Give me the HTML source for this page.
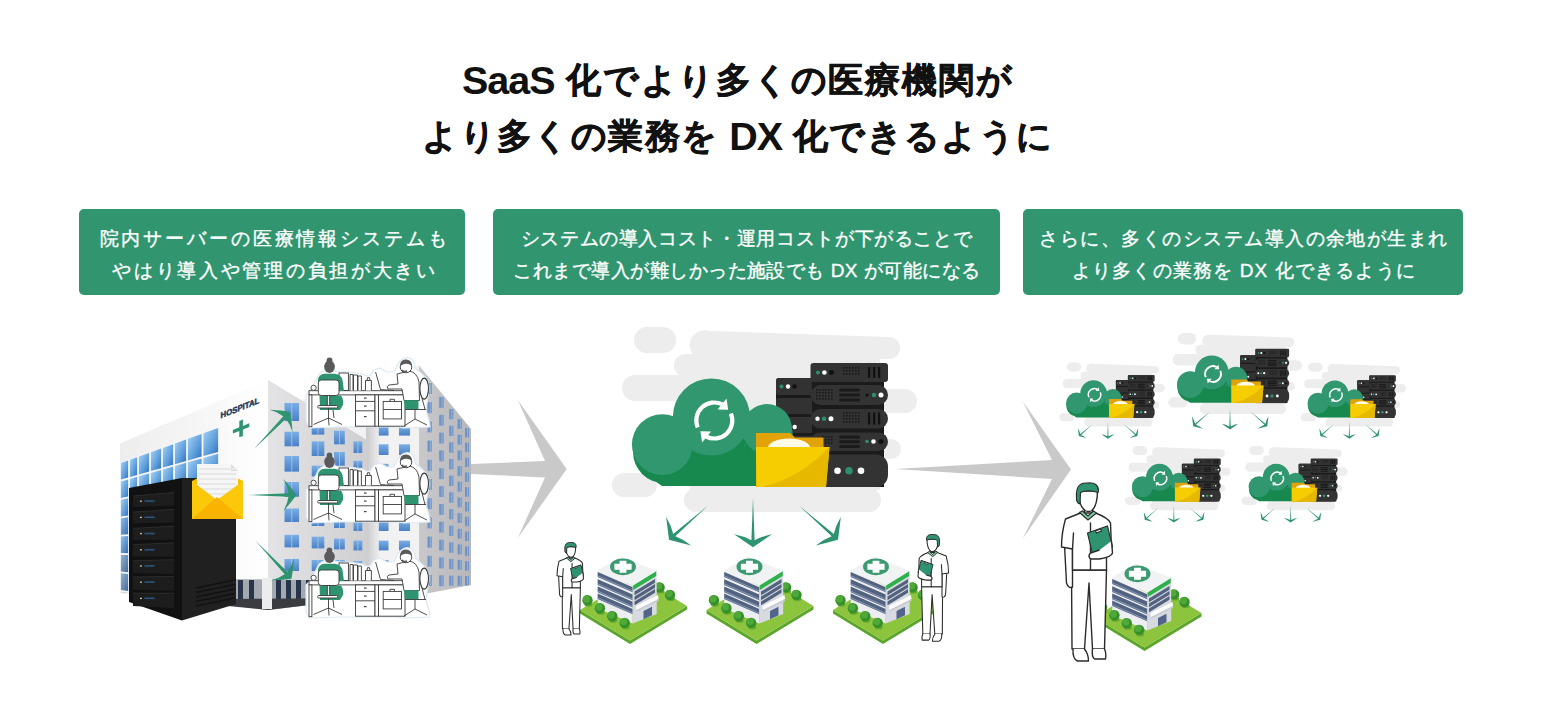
<!DOCTYPE html>
<html><head><meta charset="utf-8">
<style>
html,body{margin:0;padding:0;background:#fff;}
body{width:1542px;height:720px;position:relative;overflow:hidden;font-family:"Liberation Sans",sans-serif;}
.t{position:absolute;font-weight:bold;color:#111;-webkit-text-stroke:0.6px #111;font-size:34.5px;letter-spacing:2.9px;white-space:nowrap;line-height:1;}
.t .l{font-size:39.5px;letter-spacing:-1px;vertical-align:-2px;-webkit-text-stroke:0px #111;}
.box{position:absolute;top:209px;height:86px;background:#31966f;border-radius:5px;}
.bt{position:absolute;color:#fff;font-size:19px;-webkit-text-stroke:0.35px #fff;line-height:1;white-space:nowrap;}
svg.ill{position:absolute;left:0;top:0;}
</style></head><body>
<svg class="ill" width="1542" height="720" viewBox="0 0 1542 720">
<defs>
<linearGradient id="gwin" x1="0" y1="0" x2="1" y2="1">
<stop offset="0" stop-color="#a9d0f2"/><stop offset="0.45" stop-color="#5b9ad8"/><stop offset="1" stop-color="#4b6f98"/></linearGradient>
<linearGradient id="gpane" x1="0" y1="0" x2="1" y2="1">
<stop offset="0" stop-color="#a8d2f4"/><stop offset="0.6" stop-color="#5c9ddc"/><stop offset="1" stop-color="#2f6fb8"/></linearGradient>
<linearGradient id="gpane2" x1="0" y1="0" x2="1" y2="1">
<stop offset="0" stop-color="#8fbfe8"/><stop offset="0.6" stop-color="#5890cc"/><stop offset="1" stop-color="#3a6aa6"/></linearGradient>
<linearGradient id="gpane3" x1="0" y1="0" x2="1" y2="1">
<stop offset="0" stop-color="#8eb2d4"/><stop offset="0.6" stop-color="#6688b0"/><stop offset="1" stop-color="#4a6890"/></linearGradient>
<linearGradient id="gwin2" x1="0" y1="0" x2="0" y2="1">
<stop offset="0" stop-color="#7aaee6"/><stop offset="1" stop-color="#4a80c6"/></linearGradient>
<linearGradient id="grface" x1="0" y1="0" x2="1" y2="0">
<stop offset="0" stop-color="#e3e3e5"/><stop offset="1" stop-color="#cfcfd2"/></linearGradient>
<linearGradient id="gtall" x1="0" y1="0" x2="1" y2="0">
<stop offset="0" stop-color="#c9c9cc"/><stop offset="1" stop-color="#b7b7bb"/></linearGradient>
<linearGradient id="gleft" x1="0" y1="0" x2="1" y2="0">
<stop offset="0" stop-color="#ededed"/><stop offset="0.6" stop-color="#f7f7f7"/><stop offset="1" stop-color="#ffffff"/></linearGradient>
<linearGradient id="gshadow" x1="0" y1="0" x2="1" y2="0">
<stop offset="0" stop-color="#b8b8bc"/><stop offset="1" stop-color="#eeeeef"/></linearGradient>

<g id="unit">
<g fill="#ededed">
<rect x="634" y="327" width="42" height="26" rx="13"/>
<path d="M709 331 L889 337 A11 11 0 0 1 889 359 L700 359 A14 14 0 0 1 709 331 Z"/>
<rect x="674" y="354" width="200" height="23" rx="11.5"/>
<rect x="622" y="375" width="180" height="26" rx="13"/>
<rect x="690" y="356" width="190" height="134"/>
<rect x="870" y="389" width="47" height="24" rx="12"/>
<rect x="860" y="439" width="41" height="20" rx="10"/>
<rect x="612" y="473" width="45" height="24" rx="12"/>
<rect x="684" y="488" width="197" height="24" rx="12"/>
</g>
<rect x="776" y="378" width="40" height="108" rx="3" fill="#1b1b1b"/>
<rect x="776" y="378" width="40" height="17" rx="3" fill="#323232"/>
<rect x="776" y="398" width="40" height="16" rx="3" fill="#323232"/>
<rect x="776" y="417" width="40" height="16" rx="3" fill="#323232"/>
<rect x="776" y="436" width="40" height="16" rx="3" fill="#323232"/>
<circle cx="781.5" cy="386.5" r="2" fill="#2f8f6a"/><circle cx="788" cy="386.5" r="2.2" fill="#fff"/><circle cx="794.5" cy="386.5" r="2.2" fill="#111"/>
<circle cx="794.7" cy="427" r="2.2" fill="#fff"/>
<rect x="812" y="365" width="72" height="122" fill="#1b1b1b"/>
<rect x="810.5" y="363" width="77.5" height="19" rx="3" fill="#333333"/>
<rect x="810.5" y="385" width="77.5" height="20" rx="10" fill="#333333"/>
<rect x="810.5" y="409" width="77.5" height="19.5" rx="9.75" fill="#333333"/>
<rect x="810.5" y="432.5" width="77.5" height="18.5" rx="9.25" fill="#333333"/>
<rect x="810.5" y="454.5" width="77.5" height="32.5" rx="12" fill="#333333"/>
<circle cx="818" cy="372.5" r="2" fill="#2f8f6a"/><circle cx="824.4" cy="372.5" r="2.3" fill="#fff"/><circle cx="831.5" cy="372.5" r="2.5" fill="#111"/>
<rect x="843.0" y="367.0" width="1.6" height="1.6" fill="#1a1a1a"/><rect x="843.0" y="370.0" width="1.6" height="1.6" fill="#1a1a1a"/><rect x="843.0" y="373.0" width="1.6" height="1.6" fill="#1a1a1a"/><rect x="846.0" y="367.0" width="1.6" height="1.6" fill="#1a1a1a"/><rect x="846.0" y="370.0" width="1.6" height="1.6" fill="#1a1a1a"/><rect x="846.0" y="373.0" width="1.6" height="1.6" fill="#1a1a1a"/><rect x="849.0" y="367.0" width="1.6" height="1.6" fill="#1a1a1a"/><rect x="849.0" y="370.0" width="1.6" height="1.6" fill="#1a1a1a"/><rect x="849.0" y="373.0" width="1.6" height="1.6" fill="#1a1a1a"/><rect x="852.0" y="367.0" width="1.6" height="1.6" fill="#1a1a1a"/><rect x="852.0" y="370.0" width="1.6" height="1.6" fill="#1a1a1a"/><rect x="852.0" y="373.0" width="1.6" height="1.6" fill="#1a1a1a"/><rect x="855.0" y="367.0" width="1.6" height="1.6" fill="#1a1a1a"/><rect x="855.0" y="370.0" width="1.6" height="1.6" fill="#1a1a1a"/><rect x="855.0" y="373.0" width="1.6" height="1.6" fill="#1a1a1a"/><rect x="858.0" y="367.0" width="1.6" height="1.6" fill="#1a1a1a"/><rect x="858.0" y="370.0" width="1.6" height="1.6" fill="#1a1a1a"/><rect x="858.0" y="373.0" width="1.6" height="1.6" fill="#1a1a1a"/>
<rect x="868" y="367" width="2.2" height="11" fill="#111"/><rect x="873" y="367" width="2.2" height="11" fill="#111"/><rect x="878" y="367" width="2.2" height="11" fill="#111"/>
<rect x="816.0" y="389.0" width="1.6" height="1.6" fill="#1a1a1a"/><rect x="816.0" y="392.0" width="1.6" height="1.6" fill="#1a1a1a"/><rect x="816.0" y="395.0" width="1.6" height="1.6" fill="#1a1a1a"/><rect x="816.0" y="398.0" width="1.6" height="1.6" fill="#1a1a1a"/><rect x="819.0" y="389.0" width="1.6" height="1.6" fill="#1a1a1a"/><rect x="819.0" y="392.0" width="1.6" height="1.6" fill="#1a1a1a"/><rect x="819.0" y="395.0" width="1.6" height="1.6" fill="#1a1a1a"/><rect x="819.0" y="398.0" width="1.6" height="1.6" fill="#1a1a1a"/><rect x="822.0" y="389.0" width="1.6" height="1.6" fill="#1a1a1a"/><rect x="822.0" y="392.0" width="1.6" height="1.6" fill="#1a1a1a"/><rect x="822.0" y="395.0" width="1.6" height="1.6" fill="#1a1a1a"/><rect x="822.0" y="398.0" width="1.6" height="1.6" fill="#1a1a1a"/><rect x="825.0" y="389.0" width="1.6" height="1.6" fill="#1a1a1a"/><rect x="825.0" y="392.0" width="1.6" height="1.6" fill="#1a1a1a"/><rect x="825.0" y="395.0" width="1.6" height="1.6" fill="#1a1a1a"/><rect x="825.0" y="398.0" width="1.6" height="1.6" fill="#1a1a1a"/><rect x="828.0" y="389.0" width="1.6" height="1.6" fill="#1a1a1a"/><rect x="828.0" y="392.0" width="1.6" height="1.6" fill="#1a1a1a"/><rect x="828.0" y="395.0" width="1.6" height="1.6" fill="#1a1a1a"/><rect x="828.0" y="398.0" width="1.6" height="1.6" fill="#1a1a1a"/><rect x="831.0" y="389.0" width="1.6" height="1.6" fill="#1a1a1a"/><rect x="831.0" y="392.0" width="1.6" height="1.6" fill="#1a1a1a"/><rect x="831.0" y="395.0" width="1.6" height="1.6" fill="#1a1a1a"/><rect x="831.0" y="398.0" width="1.6" height="1.6" fill="#1a1a1a"/>
<rect x="839" y="388.5" width="21" height="3" rx="1.5" fill="#1a1a1a"/><rect x="839" y="393.5" width="21" height="3" rx="1.5" fill="#1a1a1a"/><rect x="839" y="398.5" width="21" height="3" rx="1.5" fill="#1a1a1a"/>
<circle cx="867" cy="395" r="1.6" fill="#111"/><circle cx="874" cy="395" r="2.2" fill="#2f8f6a"/><circle cx="881" cy="395" r="2.5" fill="#fff"/>
<circle cx="817.5" cy="418.7" r="2.2" fill="#fff"/><circle cx="824" cy="418.7" r="2.2" fill="#2f8f6a"/><circle cx="831" cy="418.7" r="2.5" fill="#fff"/>
<rect x="843.0" y="412.0" width="1.6" height="1.6" fill="#1a1a1a"/><rect x="843.0" y="415.0" width="1.6" height="1.6" fill="#1a1a1a"/><rect x="843.0" y="418.0" width="1.6" height="1.6" fill="#1a1a1a"/><rect x="843.0" y="421.0" width="1.6" height="1.6" fill="#1a1a1a"/><rect x="846.0" y="412.0" width="1.6" height="1.6" fill="#1a1a1a"/><rect x="846.0" y="415.0" width="1.6" height="1.6" fill="#1a1a1a"/><rect x="846.0" y="418.0" width="1.6" height="1.6" fill="#1a1a1a"/><rect x="846.0" y="421.0" width="1.6" height="1.6" fill="#1a1a1a"/><rect x="849.0" y="412.0" width="1.6" height="1.6" fill="#1a1a1a"/><rect x="849.0" y="415.0" width="1.6" height="1.6" fill="#1a1a1a"/><rect x="849.0" y="418.0" width="1.6" height="1.6" fill="#1a1a1a"/><rect x="849.0" y="421.0" width="1.6" height="1.6" fill="#1a1a1a"/><rect x="852.0" y="412.0" width="1.6" height="1.6" fill="#1a1a1a"/><rect x="852.0" y="415.0" width="1.6" height="1.6" fill="#1a1a1a"/><rect x="852.0" y="418.0" width="1.6" height="1.6" fill="#1a1a1a"/><rect x="852.0" y="421.0" width="1.6" height="1.6" fill="#1a1a1a"/><rect x="855.0" y="412.0" width="1.6" height="1.6" fill="#1a1a1a"/><rect x="855.0" y="415.0" width="1.6" height="1.6" fill="#1a1a1a"/><rect x="855.0" y="418.0" width="1.6" height="1.6" fill="#1a1a1a"/><rect x="855.0" y="421.0" width="1.6" height="1.6" fill="#1a1a1a"/><rect x="858.0" y="412.0" width="1.6" height="1.6" fill="#1a1a1a"/><rect x="858.0" y="415.0" width="1.6" height="1.6" fill="#1a1a1a"/><rect x="858.0" y="418.0" width="1.6" height="1.6" fill="#1a1a1a"/><rect x="858.0" y="421.0" width="1.6" height="1.6" fill="#1a1a1a"/>
<rect x="868" y="412.5" width="2.2" height="12" fill="#111"/><rect x="873" y="412.5" width="2.2" height="12" fill="#111"/><rect x="878" y="412.5" width="2.2" height="12" fill="#111"/>
<rect x="822.0" y="436.0" width="1.6" height="1.6" fill="#1a1a1a"/><rect x="822.0" y="439.0" width="1.6" height="1.6" fill="#1a1a1a"/><rect x="822.0" y="442.0" width="1.6" height="1.6" fill="#1a1a1a"/><rect x="825.0" y="436.0" width="1.6" height="1.6" fill="#1a1a1a"/><rect x="825.0" y="439.0" width="1.6" height="1.6" fill="#1a1a1a"/><rect x="825.0" y="442.0" width="1.6" height="1.6" fill="#1a1a1a"/><rect x="828.0" y="436.0" width="1.6" height="1.6" fill="#1a1a1a"/><rect x="828.0" y="439.0" width="1.6" height="1.6" fill="#1a1a1a"/><rect x="828.0" y="442.0" width="1.6" height="1.6" fill="#1a1a1a"/><rect x="831.0" y="436.0" width="1.6" height="1.6" fill="#1a1a1a"/><rect x="831.0" y="439.0" width="1.6" height="1.6" fill="#1a1a1a"/><rect x="831.0" y="442.0" width="1.6" height="1.6" fill="#1a1a1a"/>
<rect x="839" y="435.5" width="21" height="3" rx="1.5" fill="#1a1a1a"/><rect x="839" y="440.2" width="21" height="3" rx="1.5" fill="#1a1a1a"/><rect x="839" y="445" width="21" height="3" rx="1.5" fill="#1a1a1a"/>
<circle cx="867" cy="441.5" r="1.8" fill="#2f8f6a"/><circle cx="873.5" cy="441.5" r="2.3" fill="#fff"/><circle cx="881" cy="441.5" r="2.5" fill="#111"/>
<circle cx="837.5" cy="470.7" r="3.3" fill="#fff"/><circle cx="849" cy="470.7" r="3.8" fill="#2f8f6a"/><circle cx="861" cy="470.7" r="3.3" fill="#fff"/>
<g fill="#17894f">
<circle cx="664" cy="452" r="31"/><circle cx="713" cy="424" r="38.5"/><circle cx="768" cy="436" r="25"/>
<path d="M650 446 L790 446 L790 486 L662 486 A30 30 0 0 1 650 446 Z"/>
</g>
<g fill="#30976f">
<circle cx="662.3" cy="444.6" r="30.4"/><circle cx="767" cy="429" r="25"/>
</g>
<circle cx="711.4" cy="417" r="38.6" fill="#30976f"/>
<g fill="none" stroke="#fff" stroke-width="4.2">
<path d="M697.73 427.53 A18 18 0 0 1 722.47 404.46"/>
<path d="M730.87 413.47 A18 18 0 0 1 706.13 436.54"/>
</g>
<path d="M726.5 398.6 L728.2 409.8 L717.6 409.6 Z" fill="#fff"/>
<path d="M702.1 442.4 L700.4 431.2 L711.0 431.4 Z" fill="#fff"/>
<path d="M756 433 L790 433 L795 437.5 L823.5 437.5 L824 487 L756 487 Z" fill="#e2a309"/>
<ellipse cx="789" cy="448" rx="21" ry="9.5" fill="#fffbe6"/>
<path d="M756 447 L829.5 447 L826 487 L756.5 487 Z" fill="#f6cd00"/>
<path d="M829.5 447 L826 487 L762 487 Q800 478 829.5 447 Z" fill="#e6b800"/>
<path transform="translate(753 498) rotate(0)" d="M0 0 L1.6 42.2 Q9 38.2 19 36.300000000000004 Q9 43.2 0 49.2 Q-9 43.2 -19 36.300000000000004 Q-9 38.2 -1.6 42.2 Z" fill="#2e9470"/>
<path transform="translate(707.9 505.7) rotate(48.8)" d="M0 0 L1.6 44.7 Q9 40.7 19 38.800000000000004 Q9 45.7 0 51.7 Q-9 45.7 -19 38.800000000000004 Q-9 40.7 -1.6 44.7 Z" fill="#2e9470"/>
<path transform="translate(799.1 505.7) rotate(-48.8)" d="M0 0 L1.6 44.7 Q9 40.7 19 38.800000000000004 Q9 45.7 0 51.7 Q-9 45.7 -19 38.800000000000004 Q-9 40.7 -1.6 44.7 Z" fill="#2e9470"/>
</g>
<g id="hosp">
<path d="M580 610 L630 640.5 L687 606 L687 609.5 L630 644 L580 613.5 Z" fill="#5aa62a"/>
<path d="M580 610 L637 575.5 L687 606 L630 640.5 Z" fill="#8cc43e"/>
<ellipse cx="660.6" cy="591.4" rx="4" ry="2" fill="#6aa830"/><circle cx="659.6" cy="587.4" r="5.2" fill="#35902a"/><circle cx="658.6" cy="586.0" r="3.6" fill="#4fa83a"/>
<ellipse cx="671" cy="599" rx="4" ry="2" fill="#6aa830"/><circle cx="670" cy="595" r="5.2" fill="#35902a"/><circle cx="669" cy="593.6" r="3.6" fill="#4fa83a"/>
<path d="M597.7 570.4 L632.7 585.7 L632.7 623.6 L597.7 608.3 Z" fill="#eceef2"/>
<path d="M597.7 571.9 L632.7 587.2 L632.7 592.3 L597.7 577 Z" fill="#52627f"/>
<path d="M597.7 575.8 L632.7 591.1" stroke="#8fa6c6" stroke-width="0.8"/>
<path d="M597.7 579.2 L632.7 594.5 L632.7 600.3 L597.7 585 Z" fill="#52627f"/>
<path d="M597.7 583.8 L632.7 599.1" stroke="#8fa6c6" stroke-width="0.8"/>
<path d="M597.7 586.4 L632.7 601.7 L632.7 607.6 L597.7 592.3 Z" fill="#52627f"/>
<path d="M597.7 591.1 L632.7 606.4" stroke="#8fa6c6" stroke-width="0.8"/>
<path d="M597.7 593.6 L632.7 608.9 L632.7 614.3 L597.7 599 Z" fill="#52627f"/>
<path d="M597.7 597.8 L632.7 613.1" stroke="#8fa6c6" stroke-width="0.8"/>
<path d="M632.7 585.7 L656.7 571.1 L656.7 614.1 L632.7 623.6 Z" fill="#d7dae0"/>
<path d="M633.2 584.6 L656.2 570.6 L656.2 576 L633.2 590 Z" fill="#2eb04a"/>
<path d="M634.5 591.5 L655 579.0 L655 582.8 L634.5 595.3 Z" fill="#52627f"/>
<path d="M634.5 596.5 L655 584.0 L655 587.8 L634.5 600.3 Z" fill="#52627f"/>
<path d="M634.5 601.5 L655 589.0 L655 592.8 L634.5 605.3 Z" fill="#52627f"/>
<path d="M636 606 L658 595 L658.5 599 L636.5 610 Z" fill="#ffffff"/>
<path d="M636.5 610 L658.5 599 L658.5 601 L636.5 612 Z" fill="#c9ccd3"/>
<path d="M643.5 611 L652 606.8 L652 615.2 L643.5 619.3 Z" fill="#52648a"/>
<path d="M597.7 570.4 L621 556.6 L656.7 571.1 L632.7 585.7 Z" fill="#f1f2f4"/>
<ellipse cx="623" cy="566.8" rx="13" ry="8.4" fill="#3d9a70"/>
<path d="M619.6 560.8 h6.8 v3 h5.2 v6 h-5.2 v3 h-6.8 v-3 h-5.2 v-6 h5.2 Z" fill="#fff"/>
<ellipse cx="588.5" cy="604.8" rx="4" ry="2" fill="#6aa830"/><circle cx="587.5" cy="600.3" r="5.2" fill="#35902a"/><circle cx="586.5" cy="598.9" r="3.6" fill="#4fa83a"/>
<ellipse cx="600.9" cy="612.8" rx="4" ry="2" fill="#6aa830"/><circle cx="599.9" cy="608.3" r="5.2" fill="#35902a"/><circle cx="598.9" cy="606.9" r="3.6" fill="#4fa83a"/>
<ellipse cx="613.3" cy="620.8" rx="4" ry="2" fill="#6aa830"/><circle cx="612.3" cy="616.3" r="5.2" fill="#35902a"/><circle cx="611.3" cy="614.9" r="3.6" fill="#4fa83a"/>
<ellipse cx="625.7" cy="627.4" rx="4" ry="2" fill="#6aa830"/><circle cx="624.7" cy="622.9" r="5.2" fill="#35902a"/><circle cx="623.7" cy="621.5" r="3.6" fill="#4fa83a"/>
</g>
<g id="doc">
<g fill="#fff" stroke="#2b2b2b" style="stroke-width:var(--sw,1.5px)" stroke-linejoin="round" stroke-linecap="round" vector-effect="non-scaling-stroke">
<path vector-effect="non-scaling-stroke" d="M-16 87 L-15.5 166 L-3 166 L1.5 100 L5 166 L17 166 L19 87 Z"/>
<path vector-effect="non-scaling-stroke" d="M-14.5 166 Q-15 176 -10 178 L1 178 Q1 171 -3 166 M5 166 Q4 174 7 176 L18 176 Q19 170 17 166"/>
<path vector-effect="non-scaling-stroke" d="M-23 62 L-21 100 Q-19 106 -15 104 L-15 99 L-15 66"/>
<path vector-effect="non-scaling-stroke" d="M-7 30 L-22 36 Q-26 50 -26 64 L-15 66 L-15 87 L19 87 L19 68 L24 66 L23 40 Q21 35 8 30 Z"/>
<path vector-effect="non-scaling-stroke" fill="none" d="M-15 66 L-14 50 M3 40 L3 87"/>
<path vector-effect="non-scaling-stroke" d="M-8.5 8 Q-9.5 22 -2.5 27.5 Q1 29.5 4.5 27.5 Q10 22 10 8 Z"/>
<path vector-effect="non-scaling-stroke" fill="none" d="M-3 27 L-3 32 M5 27 L5 32"/>
</g>
<path d="M-11 14 Q-12 -1 0 0 Q11 -1 11 8 L10.5 9.5 Q0 6 -7 9.5 L-7.5 21 Q-11.5 20 -11 14 Z" fill="#2e9470" stroke="#2b2b2b" style="stroke-width:var(--sw2,1.2px)" vector-effect="non-scaling-stroke"/>
<path d="M-8 29.5 L0.5 37 L9 30 L6 28 L0.5 33 L-5 28 Z" fill="#7cc9a3" stroke="#2b2b2b" style="stroke-width:var(--sw2,1.2px)" vector-effect="non-scaling-stroke"/>
<path d="M0 50 L20 43 L25 64 L5 71 Z" fill="#2e9470" stroke="#2b2b2b" style="stroke-width:var(--sw2,1.2px)" vector-effect="non-scaling-stroke"/>
<path d="M8 48 L13 46 L14 48 L9 50 Z" fill="#fff" stroke="#2b2b2b" style="stroke-width:var(--sw2,1px)" vector-effect="non-scaling-stroke"/>
<path d="M24 58 L25 70 Q24 74 12 76 L3 76 Q0 73 3 70 L12 67" fill="#fff" stroke="#2b2b2b" style="stroke-width:var(--sw,1.5px)" vector-effect="non-scaling-stroke" stroke-linejoin="round"/>
</g>
<g id="office">
<path d="M309 392 L316 380 Q319 372 324 371 L326 362 Q329 356 333 360 L335 371 L339 372 L349 372 L363 374 L366 376 L370 376 L374 370 L380 368 L387 372 L394 372 L398 364 Q403 356 410 358 Q415 361 415 368 L420 372 L426 378 Q431 386 428 396 L426 410 L429 420 L430 427 L404 428 L395 427 L340 427 L310 428 L306 422 L306 395 Z" fill="#fff" stroke="#dde8f2" stroke-width="1.2"/>
<rect x="309" y="390.7" width="96" height="4.2" fill="#fff" stroke="#3a3a3a" stroke-width="0.9"/>
<rect x="309" y="394.9" width="2.9" height="31.8" fill="#fff" stroke="#3a3a3a" stroke-width="0.9"/>
<rect x="355.5" y="394.9" width="19.5" height="31.3" fill="#fff" stroke="#3a3a3a" stroke-width="0.9"/>
<path d="M355.5 401.4 H375 M355.5 410.8 H375" stroke="#3a3a3a" stroke-width="0.9"/>
<rect x="364" y="397.5" width="2.6" height="1.2" fill="#444"/><rect x="364" y="405.5" width="2.6" height="1.2" fill="#444"/><rect x="364" y="416" width="2.6" height="1.2" fill="#444"/>
<rect x="375" y="394.9" width="3.5" height="31.3" fill="#fff" stroke="#3a3a3a" stroke-width="0.9"/>
<rect x="378.5" y="394.9" width="26.5" height="31.3" fill="#fff" stroke="#3a3a3a" stroke-width="0.9"/>
<rect x="383.2" y="401.4" width="18.3" height="17.5" fill="#fff" stroke="#3a3a3a" stroke-width="0.9"/>
<path d="M383.2 409.5 H401.5 M390 401.4 V399.3 H394.5 V401.4" fill="none" stroke="#3a3a3a" stroke-width="0.9"/>
<rect x="339" y="373" width="9.4" height="17.5" fill="#fff" stroke="#3a3a3a" stroke-width="0.9"/>
<path d="M350 390.5 V374.5 H353 V390.5 M353.5 390.5 V375 H357.5 V390.5 M358 390.5 V376 H361.4 V390.5" fill="#fff" stroke="#3a3a3a" stroke-width="0.9"/>
<path d="M365.5 390.5 V380.5 H371.4 V390.5 M367 380.5 L367.5 377.7 H369.5 L370 380.5" fill="#fff" stroke="#3a3a3a" stroke-width="0.9"/>
<circle cx="313.6" cy="387.8" r="2.6" fill="#fff" stroke="#3a3a3a" stroke-width="0.9"/>
<path d="M375.6 372 L380.5 389.5 L394 390.5" fill="none" stroke="#3a3a3a" stroke-width="0.9"/>
<ellipse cx="329.5" cy="366.8" rx="5.3" ry="6.2" fill="#5a5a5a"/><circle cx="329.5" cy="360.5" r="2.9" fill="#5a5a5a"/>
<path d="M318 379 Q319 374.5 324.5 373.8 L335 373.8 Q341 374.5 342.5 380 L344 391 L318 391 Z" fill="#2e9470"/>
<path d="M319.5 395.5 L341 395.5 Q344 400 343 405 L340 410 L320 410 Z" fill="#2e9470"/>
<rect x="318.3" y="380" width="20.7" height="15.5" rx="3" fill="#fff" stroke="#3a3a3a" stroke-width="0.9"/>
<rect x="327.3" y="395.5" width="2.4" height="10" fill="#fff" stroke="#3a3a3a" stroke-width="0.9"/>
<rect x="317.7" y="405.5" width="20" height="2.5" rx="1" fill="#fff" stroke="#3a3a3a" stroke-width="0.9"/>
<path d="M328.5 408 V418 M328.5 418 L313.5 424.5 M328.5 418 L342 424.5 M328.5 418 L329 425.5 M333 410 L334 418" fill="none" stroke="#3a3a3a" stroke-width="0.9"/>
<path d="M397 374 L409 371 Q417 372 419 382 L419.5 400.5 L404 400.5 L402 389 L388 389 Q386 386 389 385 L398 384 Z" fill="#fff" stroke="#3a3a3a" stroke-width="0.9"/>
<path d="M404 400.2 L418.5 400.2 L418.5 409.6 L405 409.6 Z" fill="#2e9470"/>
<circle cx="406" cy="367" r="5.8" fill="#fff" stroke="#3a3a3a" stroke-width="0.9"/>
<path d="M400 366 Q400 359 406.5 359.5 Q412.5 360 412 367 Q410 363 404 364 Z" fill="#5a5a5a"/>
<path d="M402 370 Q404 372.5 407 371" fill="none" stroke="#5a5a5a" stroke-width="1.4"/>
<ellipse cx="424.2" cy="388.6" rx="4.3" ry="10.5" fill="none" stroke="#3a3a3a" stroke-width="1.1"/>
<path d="M405 409.5 L426 409.5 M415 409.5 V419 M415 419 L404 426 M415 419 L427 425 M422 398 L425 409.5" fill="none" stroke="#3a3a3a" stroke-width="0.9"/>
</g>
</defs>
<path d="M419 365.6 L471 429 L471 585 L419 595 Z" fill="url(#gtall)"/>
<rect x="427.5" y="383.0" width="4.3" height="11" fill="#6e93c6"/><rect x="429.9" y="383.0" width="0.7" height="11" fill="#a8bedc"/><rect x="427.5" y="402.2" width="4.3" height="11" fill="#6e93c6"/><rect x="429.9" y="402.2" width="0.7" height="11" fill="#a8bedc"/><rect x="427.5" y="421.4" width="4.3" height="11" fill="#6e93c6"/><rect x="429.9" y="421.4" width="0.7" height="11" fill="#a8bedc"/><rect x="427.5" y="440.6" width="4.3" height="11" fill="#6e93c6"/><rect x="429.9" y="440.6" width="0.7" height="11" fill="#a8bedc"/><rect x="427.5" y="459.8" width="4.3" height="11" fill="#6e93c6"/><rect x="429.9" y="459.8" width="0.7" height="11" fill="#a8bedc"/><rect x="427.5" y="479.0" width="4.3" height="11" fill="#6e93c6"/><rect x="429.9" y="479.0" width="0.7" height="11" fill="#a8bedc"/><rect x="427.5" y="498.2" width="4.3" height="11" fill="#6e93c6"/><rect x="429.9" y="498.2" width="0.7" height="11" fill="#a8bedc"/><rect x="427.5" y="517.4" width="4.3" height="11" fill="#6e93c6"/><rect x="429.9" y="517.4" width="0.7" height="11" fill="#a8bedc"/><rect x="427.5" y="536.6" width="4.3" height="11" fill="#6e93c6"/><rect x="429.9" y="536.6" width="0.7" height="11" fill="#a8bedc"/><rect x="427.5" y="555.8" width="4.3" height="11" fill="#6e93c6"/><rect x="429.9" y="555.8" width="0.7" height="11" fill="#a8bedc"/><rect x="427.5" y="575.0" width="4.3" height="11" fill="#6e93c6"/><rect x="429.9" y="575.0" width="0.7" height="11" fill="#a8bedc"/><rect x="439.2" y="397.0" width="4.5" height="10.8" fill="#6e93c6"/><rect x="441.7" y="397.0" width="0.7" height="10.8" fill="#a8bedc"/><rect x="439.2" y="414.9" width="4.5" height="10.8" fill="#6e93c6"/><rect x="441.7" y="414.9" width="0.7" height="10.8" fill="#a8bedc"/><rect x="439.2" y="432.7" width="4.5" height="10.8" fill="#6e93c6"/><rect x="441.7" y="432.7" width="0.7" height="10.8" fill="#a8bedc"/><rect x="439.2" y="450.5" width="4.5" height="10.8" fill="#6e93c6"/><rect x="441.7" y="450.5" width="0.7" height="10.8" fill="#a8bedc"/><rect x="439.2" y="468.3" width="4.5" height="10.8" fill="#6e93c6"/><rect x="441.7" y="468.3" width="0.7" height="10.8" fill="#a8bedc"/><rect x="439.2" y="486.2" width="4.5" height="10.8" fill="#6e93c6"/><rect x="441.7" y="486.2" width="0.7" height="10.8" fill="#a8bedc"/><rect x="439.2" y="504.0" width="4.5" height="10.8" fill="#6e93c6"/><rect x="441.7" y="504.0" width="0.7" height="10.8" fill="#a8bedc"/><rect x="439.2" y="521.8" width="4.5" height="10.8" fill="#6e93c6"/><rect x="441.7" y="521.8" width="0.7" height="10.8" fill="#a8bedc"/><rect x="439.2" y="539.7" width="4.5" height="10.8" fill="#6e93c6"/><rect x="441.7" y="539.7" width="0.7" height="10.8" fill="#a8bedc"/><rect x="439.2" y="557.5" width="4.5" height="10.8" fill="#6e93c6"/><rect x="441.7" y="557.5" width="0.7" height="10.8" fill="#a8bedc"/><rect x="439.2" y="575.3" width="4.5" height="10.8" fill="#6e93c6"/><rect x="441.7" y="575.3" width="0.7" height="10.8" fill="#a8bedc"/><rect x="449.2" y="409.0" width="4.2" height="10.3" fill="#6e93c6"/><rect x="451.5" y="409.0" width="0.7" height="10.3" fill="#a8bedc"/><rect x="449.2" y="425.7" width="4.2" height="10.3" fill="#6e93c6"/><rect x="451.5" y="425.7" width="0.7" height="10.3" fill="#a8bedc"/><rect x="449.2" y="442.3" width="4.2" height="10.3" fill="#6e93c6"/><rect x="451.5" y="442.3" width="0.7" height="10.3" fill="#a8bedc"/><rect x="449.2" y="459.0" width="4.2" height="10.3" fill="#6e93c6"/><rect x="451.5" y="459.0" width="0.7" height="10.3" fill="#a8bedc"/><rect x="449.2" y="475.7" width="4.2" height="10.3" fill="#6e93c6"/><rect x="451.5" y="475.7" width="0.7" height="10.3" fill="#a8bedc"/><rect x="449.2" y="492.3" width="4.2" height="10.3" fill="#6e93c6"/><rect x="451.5" y="492.3" width="0.7" height="10.3" fill="#a8bedc"/><rect x="449.2" y="509.0" width="4.2" height="10.3" fill="#6e93c6"/><rect x="451.5" y="509.0" width="0.7" height="10.3" fill="#a8bedc"/><rect x="449.2" y="525.6" width="4.2" height="10.3" fill="#6e93c6"/><rect x="451.5" y="525.6" width="0.7" height="10.3" fill="#a8bedc"/><rect x="449.2" y="542.3" width="4.2" height="10.3" fill="#6e93c6"/><rect x="451.5" y="542.3" width="0.7" height="10.3" fill="#a8bedc"/><rect x="449.2" y="558.9" width="4.2" height="10.3" fill="#6e93c6"/><rect x="451.5" y="558.9" width="0.7" height="10.3" fill="#a8bedc"/><rect x="449.2" y="575.6" width="4.2" height="10.3" fill="#6e93c6"/><rect x="451.5" y="575.6" width="0.7" height="10.3" fill="#a8bedc"/><rect x="457.6" y="419.1" width="4.2" height="9.8" fill="#6e93c6"/><rect x="459.9" y="419.1" width="0.7" height="9.8" fill="#a8bedc"/><rect x="457.6" y="434.8" width="4.2" height="9.8" fill="#6e93c6"/><rect x="459.9" y="434.8" width="0.7" height="9.8" fill="#a8bedc"/><rect x="457.6" y="450.5" width="4.2" height="9.8" fill="#6e93c6"/><rect x="459.9" y="450.5" width="0.7" height="9.8" fill="#a8bedc"/><rect x="457.6" y="466.1" width="4.2" height="9.8" fill="#6e93c6"/><rect x="459.9" y="466.1" width="0.7" height="9.8" fill="#a8bedc"/><rect x="457.6" y="481.8" width="4.2" height="9.8" fill="#6e93c6"/><rect x="459.9" y="481.8" width="0.7" height="9.8" fill="#a8bedc"/><rect x="457.6" y="497.5" width="4.2" height="9.8" fill="#6e93c6"/><rect x="459.9" y="497.5" width="0.7" height="9.8" fill="#a8bedc"/><rect x="457.6" y="513.1" width="4.2" height="9.8" fill="#6e93c6"/><rect x="459.9" y="513.1" width="0.7" height="9.8" fill="#a8bedc"/><rect x="457.6" y="528.8" width="4.2" height="9.8" fill="#6e93c6"/><rect x="459.9" y="528.8" width="0.7" height="9.8" fill="#a8bedc"/><rect x="457.6" y="544.5" width="4.2" height="9.8" fill="#6e93c6"/><rect x="459.9" y="544.5" width="0.7" height="9.8" fill="#a8bedc"/><rect x="457.6" y="560.1" width="4.2" height="9.8" fill="#6e93c6"/><rect x="459.9" y="560.1" width="0.7" height="9.8" fill="#a8bedc"/><rect x="457.6" y="575.8" width="4.2" height="9.8" fill="#6e93c6"/><rect x="459.9" y="575.8" width="0.7" height="9.8" fill="#a8bedc"/><rect x="465" y="428.0" width="4" height="9.4" fill="#6e93c6"/><rect x="467.2" y="428.0" width="0.7" height="9.4" fill="#a8bedc"/><rect x="465" y="442.8" width="4" height="9.4" fill="#6e93c6"/><rect x="467.2" y="442.8" width="0.7" height="9.4" fill="#a8bedc"/><rect x="465" y="457.6" width="4" height="9.4" fill="#6e93c6"/><rect x="467.2" y="457.6" width="0.7" height="9.4" fill="#a8bedc"/><rect x="465" y="472.4" width="4" height="9.4" fill="#6e93c6"/><rect x="467.2" y="472.4" width="0.7" height="9.4" fill="#a8bedc"/><rect x="465" y="487.2" width="4" height="9.4" fill="#6e93c6"/><rect x="467.2" y="487.2" width="0.7" height="9.4" fill="#a8bedc"/><rect x="465" y="502.0" width="4" height="9.4" fill="#6e93c6"/><rect x="467.2" y="502.0" width="0.7" height="9.4" fill="#a8bedc"/><rect x="465" y="516.8" width="4" height="9.4" fill="#6e93c6"/><rect x="467.2" y="516.8" width="0.7" height="9.4" fill="#a8bedc"/><rect x="465" y="531.6" width="4" height="9.4" fill="#6e93c6"/><rect x="467.2" y="531.6" width="0.7" height="9.4" fill="#a8bedc"/><rect x="465" y="546.4" width="4" height="9.4" fill="#6e93c6"/><rect x="467.2" y="546.4" width="0.7" height="9.4" fill="#a8bedc"/><rect x="465" y="561.2" width="4" height="9.4" fill="#6e93c6"/><rect x="467.2" y="561.2" width="0.7" height="9.4" fill="#a8bedc"/><rect x="465" y="576.0" width="4" height="9.4" fill="#6e93c6"/><rect x="467.2" y="576.0" width="0.7" height="9.4" fill="#a8bedc"/>
<path d="M300 400 L419 365.6 L419 598 L300 600 Z" fill="#f2f2f3"/>
<path d="M366 378 L380 375 L380 600 L366 600 Z" fill="url(#gshadow)" opacity="0.7"/>
<rect x="378.8" y="406" width="9.699999999999989" height="10" fill="url(#gwin2)"/>
<rect x="378.8" y="425.8" width="9.699999999999989" height="9.800000000000011" fill="url(#gwin2)"/>
<rect x="378.8" y="444.3" width="9.699999999999989" height="10.699999999999989" fill="url(#gwin2)"/>
<rect x="378.8" y="463.8" width="9.699999999999989" height="9.699999999999989" fill="url(#gwin2)"/>
<rect x="378.8" y="483" width="9.699999999999989" height="10" fill="url(#gwin2)"/>
<rect x="378.8" y="502" width="9.699999999999989" height="10" fill="url(#gwin2)"/>
<rect x="378.8" y="521" width="9.699999999999989" height="10" fill="url(#gwin2)"/>
<rect x="378.8" y="540.6" width="9.699999999999989" height="9.799999999999955" fill="url(#gwin2)"/>
<rect x="378.8" y="560" width="9.699999999999989" height="10" fill="url(#gwin2)"/>
<rect x="378.8" y="579" width="9.699999999999989" height="10" fill="url(#gwin2)"/>
<rect x="399" y="406" width="11" height="10" fill="url(#gwin2)"/>
<rect x="399" y="425.8" width="11" height="9.800000000000011" fill="url(#gwin2)"/>
<rect x="399" y="444.3" width="11" height="10.699999999999989" fill="url(#gwin2)"/>
<rect x="399" y="463.8" width="11" height="9.699999999999989" fill="url(#gwin2)"/>
<rect x="399" y="483" width="11" height="10" fill="url(#gwin2)"/>
<rect x="399" y="502" width="11" height="10" fill="url(#gwin2)"/>
<rect x="399" y="521" width="11" height="10" fill="url(#gwin2)"/>
<rect x="399" y="540.6" width="11" height="9.799999999999955" fill="url(#gwin2)"/>
<rect x="399" y="560" width="11" height="10" fill="url(#gwin2)"/>
<rect x="399" y="579" width="11" height="10" fill="url(#gwin2)"/>
<path d="M268 380 L367 440 L367 598 L268 610 Z" fill="url(#grface)"/>
<rect x="284.5" y="403" width="14.5" height="18.0" fill="url(#gwin2)"/>
<rect x="291.4" y="403" width="0.8" height="18.0" fill="#a9c8ea"/>
<rect x="284.5" y="431.7" width="14.5" height="14.6" fill="url(#gwin2)"/>
<rect x="291.4" y="431.7" width="0.8" height="14.6" fill="#a9c8ea"/>
<rect x="284.5" y="456" width="14.5" height="15.6" fill="url(#gwin2)"/>
<rect x="291.4" y="456" width="0.8" height="15.6" fill="#a9c8ea"/>
<rect x="284.5" y="482" width="14.5" height="14.8" fill="url(#gwin2)"/>
<rect x="291.4" y="482" width="0.8" height="14.8" fill="#a9c8ea"/>
<rect x="284.5" y="508.5" width="14.5" height="13.5" fill="url(#gwin2)"/>
<rect x="291.4" y="508.5" width="0.8" height="13.5" fill="#a9c8ea"/>
<rect x="284.5" y="534.8" width="14.5" height="12.6" fill="url(#gwin2)"/>
<rect x="291.4" y="534.8" width="0.8" height="12.6" fill="#a9c8ea"/>
<rect x="284.5" y="559" width="14.5" height="12.0" fill="url(#gwin2)"/>
<rect x="291.4" y="559" width="0.8" height="12.0" fill="#a9c8ea"/>
<rect x="311.7" y="424" width="12.6" height="10.6" fill="url(#gwin2)"/>
<rect x="317.6" y="424" width="0.8" height="10.6" fill="#a9c8ea"/>
<rect x="311.7" y="441.4" width="12.6" height="14.6" fill="url(#gwin2)"/>
<rect x="317.6" y="441.4" width="0.8" height="14.6" fill="#a9c8ea"/>
<rect x="311.7" y="465.7" width="12.6" height="10.7" fill="url(#gwin2)"/>
<rect x="317.6" y="465.7" width="0.8" height="10.7" fill="#a9c8ea"/>
<rect x="311.7" y="491" width="12.6" height="10.0" fill="url(#gwin2)"/>
<rect x="317.6" y="491" width="0.8" height="10.0" fill="#a9c8ea"/>
<rect x="311.7" y="517" width="12.6" height="9.0" fill="url(#gwin2)"/>
<rect x="317.6" y="517" width="0.8" height="9.0" fill="#a9c8ea"/>
<rect x="311.7" y="536.7" width="12.6" height="11.7" fill="url(#gwin2)"/>
<rect x="317.6" y="536.7" width="0.8" height="11.7" fill="#a9c8ea"/>
<rect x="311.7" y="560" width="12.6" height="11.0" fill="url(#gwin2)"/>
<rect x="317.6" y="560" width="0.8" height="11.0" fill="#a9c8ea"/>
<rect x="334" y="430.7" width="10.8" height="13.6" fill="url(#gwin2)"/>
<rect x="339.0" y="430.7" width="0.8" height="13.6" fill="#a9c8ea"/>
<rect x="334" y="452" width="10.8" height="13.7" fill="url(#gwin2)"/>
<rect x="339.0" y="452" width="0.8" height="13.7" fill="#a9c8ea"/>
<rect x="334" y="474" width="10.8" height="11.0" fill="url(#gwin2)"/>
<rect x="339.0" y="474" width="0.8" height="11.0" fill="#a9c8ea"/>
<rect x="334" y="497" width="10.8" height="10.0" fill="url(#gwin2)"/>
<rect x="339.0" y="497" width="0.8" height="10.0" fill="#a9c8ea"/>
<rect x="334" y="519" width="10.8" height="9.0" fill="url(#gwin2)"/>
<rect x="339.0" y="519" width="0.8" height="9.0" fill="#a9c8ea"/>
<rect x="334" y="538.7" width="10.8" height="10.7" fill="url(#gwin2)"/>
<rect x="339.0" y="538.7" width="0.8" height="10.7" fill="#a9c8ea"/>
<rect x="334" y="560" width="10.8" height="11.0" fill="url(#gwin2)"/>
<rect x="339.0" y="560" width="0.8" height="11.0" fill="#a9c8ea"/>
<rect x="353.5" y="441.4" width="8.8" height="11.6" fill="url(#gwin2)"/>
<rect x="357.5" y="441.4" width="0.8" height="11.6" fill="#a9c8ea"/>
<rect x="353.5" y="460.8" width="8.8" height="6.9" fill="url(#gwin2)"/>
<rect x="357.5" y="460.8" width="0.8" height="6.9" fill="#a9c8ea"/>
<rect x="353.5" y="480" width="8.8" height="10.0" fill="url(#gwin2)"/>
<rect x="357.5" y="480" width="0.8" height="10.0" fill="#a9c8ea"/>
<rect x="353.5" y="501" width="8.8" height="9.0" fill="url(#gwin2)"/>
<rect x="357.5" y="501" width="0.8" height="9.0" fill="#a9c8ea"/>
<rect x="353.5" y="522" width="8.8" height="9.0" fill="url(#gwin2)"/>
<rect x="357.5" y="522" width="0.8" height="9.0" fill="#a9c8ea"/>
<rect x="353.5" y="540.6" width="8.8" height="9.8" fill="url(#gwin2)"/>
<rect x="357.5" y="540.6" width="0.8" height="9.8" fill="#a9c8ea"/>
<rect x="353.5" y="561" width="8.8" height="10.0" fill="url(#gwin2)"/>
<rect x="357.5" y="561" width="0.8" height="10.0" fill="#a9c8ea"/>
<path d="M120 443.5 L268 380 L268 609 L120 593 Z" fill="url(#gleft)"/>
<path d="M120 462.5 L219 426.7 L219 604 L120 592 Z" fill="#f4f6f8"/>
<clipPath id="cpband"><path d="M120 462.5 L219 426.7 L219 604 L120 592 Z"/></clipPath>
<g clip-path="url(#cpband)"><path d="M120.9 463.1 L128.1 460.5 L128.1 477.6 L120.9 479.6 Z" fill="url(#gpane)"/><path d="M120.9 481.4 L128.1 479.4 L128.1 496.5 L120.9 498.0 Z" fill="url(#gpane)"/><path d="M120.9 499.8 L128.1 498.3 L128.1 515.4 L120.9 516.4 Z" fill="url(#gpane)"/><path d="M120.9 518.2 L128.1 517.2 L128.1 534.3 L120.9 534.7 Z" fill="url(#gpane2)"/><path d="M120.9 536.5 L128.1 536.1 L128.1 553.2 L120.9 553.1 Z" fill="url(#gpane2)"/><path d="M120.9 554.9 L128.1 555.0 L128.1 572.2 L120.9 571.5 Z" fill="url(#gpane3)"/><path d="M120.9 573.3 L128.1 574.0 L128.1 591.1 L120.9 589.9 Z" fill="url(#gpane3)"/><path d="M120.9 591.7 L128.1 592.9 L128.1 610.0 L120.9 608.2 Z" fill="url(#gpane3)"/><path d="M129.9 459.8 L137.1 457.2 L137.1 475.0 L129.9 477.1 Z" fill="url(#gpane)"/><path d="M129.9 478.9 L137.1 476.8 L137.1 494.6 L129.9 496.1 Z" fill="url(#gpane)"/><path d="M129.9 497.9 L137.1 496.4 L137.1 514.2 L129.9 515.2 Z" fill="url(#gpane)"/><path d="M129.9 517.0 L137.1 516.0 L137.1 533.8 L129.9 534.2 Z" fill="url(#gpane2)"/><path d="M129.9 536.0 L137.1 535.6 L137.1 553.4 L129.9 553.3 Z" fill="url(#gpane2)"/><path d="M129.9 555.1 L137.1 555.2 L137.1 573.0 L129.9 572.3 Z" fill="url(#gpane3)"/><path d="M129.9 574.1 L137.1 574.8 L137.1 592.6 L129.9 591.4 Z" fill="url(#gpane3)"/><path d="M129.9 593.2 L137.1 594.4 L137.1 612.2 L129.9 610.4 Z" fill="url(#gpane3)"/><path d="M138.9 456.6 L149.1 452.9 L149.1 471.6 L138.9 474.5 Z" fill="url(#gpane)"/><path d="M138.9 476.3 L149.1 473.4 L149.1 492.1 L138.9 494.2 Z" fill="url(#gpane)"/><path d="M138.9 496.0 L149.1 493.9 L149.1 512.6 L138.9 514.0 Z" fill="url(#gpane)"/><path d="M138.9 515.8 L149.1 514.4 L149.1 533.1 L138.9 533.7 Z" fill="url(#gpane2)"/><path d="M138.9 535.5 L149.1 534.9 L149.1 553.6 L138.9 553.4 Z" fill="url(#gpane2)"/><path d="M138.9 555.2 L149.1 555.4 L149.1 574.1 L138.9 573.2 Z" fill="url(#gpane3)"/><path d="M138.9 575.0 L149.1 575.9 L149.1 594.6 L138.9 592.9 Z" fill="url(#gpane3)"/><path d="M138.9 594.7 L149.1 596.4 L149.1 615.1 L138.9 612.6 Z" fill="url(#gpane3)"/><path d="M150.9 452.2 L161.1 448.5 L161.1 468.2 L150.9 471.1 Z" fill="url(#gpane)"/><path d="M150.9 472.9 L161.1 470.0 L161.1 489.6 L150.9 491.7 Z" fill="url(#gpane)"/><path d="M150.9 493.5 L161.1 491.4 L161.1 511.0 L150.9 512.3 Z" fill="url(#gpane)"/><path d="M150.9 514.1 L161.1 512.8 L161.1 532.4 L150.9 533.0 Z" fill="url(#gpane2)"/><path d="M150.9 534.8 L161.1 534.2 L161.1 553.8 L150.9 553.6 Z" fill="url(#gpane2)"/><path d="M150.9 555.4 L161.1 555.6 L161.1 575.2 L150.9 574.3 Z" fill="url(#gpane3)"/><path d="M150.9 576.1 L161.1 577.0 L161.1 596.6 L150.9 594.9 Z" fill="url(#gpane3)"/><path d="M150.9 596.7 L161.1 598.4 L161.1 618.0 L150.9 615.6 Z" fill="url(#gpane3)"/><path d="M162.9 447.9 L173.1 444.2 L173.1 464.7 L162.9 467.6 Z" fill="url(#gpane)"/><path d="M162.9 469.4 L173.1 466.5 L173.1 487.0 L162.9 489.2 Z" fill="url(#gpane)"/><path d="M162.9 491.0 L173.1 488.8 L173.1 509.4 L162.9 510.7 Z" fill="url(#gpane)"/><path d="M162.9 512.5 L173.1 511.2 L173.1 531.7 L162.9 532.3 Z" fill="url(#gpane2)"/><path d="M162.9 534.1 L173.1 533.5 L173.1 554.0 L162.9 553.8 Z" fill="url(#gpane2)"/><path d="M162.9 555.6 L173.1 555.8 L173.1 576.3 L162.9 575.4 Z" fill="url(#gpane3)"/><path d="M162.9 577.2 L173.1 578.1 L173.1 598.7 L162.9 596.9 Z" fill="url(#gpane3)"/><path d="M162.9 598.7 L173.1 600.5 L173.1 621.0 L162.9 618.5 Z" fill="url(#gpane3)"/><path d="M174.9 443.5 L186.1 439.5 L186.1 461.0 L174.9 464.2 Z" fill="url(#gpane)"/><path d="M174.9 466.0 L186.1 462.8 L186.1 484.3 L174.9 486.7 Z" fill="url(#gpane)"/><path d="M174.9 488.5 L186.1 486.1 L186.1 507.6 L174.9 509.1 Z" fill="url(#gpane)"/><path d="M174.9 510.9 L186.1 509.4 L186.1 530.9 L174.9 531.6 Z" fill="url(#gpane2)"/><path d="M174.9 533.4 L186.1 532.7 L186.1 554.2 L174.9 554.0 Z" fill="url(#gpane2)"/><path d="M174.9 555.8 L186.1 556.0 L186.1 577.5 L174.9 576.5 Z" fill="url(#gpane3)"/><path d="M174.9 578.3 L186.1 579.3 L186.1 600.9 L174.9 599.0 Z" fill="url(#gpane3)"/><path d="M174.9 600.8 L186.1 602.7 L186.1 624.2 L174.9 621.4 Z" fill="url(#gpane3)"/><path d="M187.9 438.8 L201.6 433.9 L201.6 456.6 L187.9 460.5 Z" fill="url(#gpane)"/><path d="M187.9 462.3 L201.6 458.4 L201.6 481.1 L187.9 483.9 Z" fill="url(#gpane)"/><path d="M187.9 485.7 L201.6 482.9 L201.6 505.5 L187.9 507.4 Z" fill="url(#gpane)"/><path d="M187.9 509.2 L201.6 507.3 L201.6 530.0 L187.9 530.8 Z" fill="url(#gpane2)"/><path d="M187.9 532.6 L201.6 531.8 L201.6 554.5 L187.9 554.3 Z" fill="url(#gpane2)"/><path d="M187.9 556.1 L201.6 556.3 L201.6 579.0 L187.9 577.7 Z" fill="url(#gpane3)"/><path d="M187.9 579.5 L201.6 580.8 L201.6 603.5 L187.9 601.2 Z" fill="url(#gpane3)"/><path d="M187.9 603.0 L201.6 605.3 L201.6 627.9 L187.9 624.6 Z" fill="url(#gpane3)"/><path d="M203.4 433.2 L218.1 427.9 L218.1 451.9 L203.4 456.1 Z" fill="url(#gpane)"/><path d="M203.4 457.9 L218.1 453.7 L218.1 477.6 L203.4 480.7 Z" fill="url(#gpane)"/><path d="M203.4 482.5 L218.1 479.4 L218.1 503.3 L203.4 505.3 Z" fill="url(#gpane)"/><path d="M203.4 507.1 L218.1 505.1 L218.1 529.1 L203.4 529.9 Z" fill="url(#gpane2)"/><path d="M203.4 531.7 L218.1 530.9 L218.1 554.8 L203.4 554.5 Z" fill="url(#gpane2)"/><path d="M203.4 556.3 L218.1 556.6 L218.1 580.5 L203.4 579.2 Z" fill="url(#gpane3)"/><path d="M203.4 581.0 L218.1 582.3 L218.1 606.2 L203.4 603.8 Z" fill="url(#gpane3)"/><path d="M203.4 605.6 L218.1 608.0 L218.1 632.0 L203.4 628.4 Z" fill="url(#gpane3)"/></g>
<path d="M228 579 L367 581 L367 598 L268 610 L228 605 Z" fill="#a4a9b1"/>
<rect x="238" y="580" width="5" height="19" fill="#26354a"/>
<rect x="249" y="580" width="5" height="19" fill="#26354a"/>
<rect x="276" y="580" width="5" height="19" fill="#26354a"/>
<rect x="286" y="580" width="5" height="19" fill="#26354a"/>
<rect x="296" y="580" width="5" height="19" fill="#26354a"/>
<rect x="306" y="580" width="5" height="19" fill="#26354a"/>
<rect x="318" y="580" width="5" height="19" fill="#26354a"/>
<rect x="330" y="580" width="5" height="19" fill="#26354a"/>
<rect x="342" y="580" width="5" height="19" fill="#26354a"/>
<rect x="354" y="580" width="5" height="19" fill="#26354a"/>
<path d="M228 599 L367 598 L268 610 L228 606 Z" fill="#3a3c40"/>
<rect x="262" y="578" width="10" height="31" fill="#ececed"/>
<text x="0" y="0" transform="translate(220.5 418.6) skewY(-21.8) scale(0.93 1)" font-family="Liberation Sans" font-weight="bold" font-size="8.4" fill="#1f3556" stroke="#1f3556" stroke-width="0.45" letter-spacing="0">HOSPITAL</text>
<path transform="translate(241.1 428.4) skewY(-21.8)" d="M-1.8 -8.2 h3.6 v6.4 h6.4 v3.6 h-6.4 v6.4 h-3.6 v-6.4 h-6.4 v-3.6 h6.4 Z" fill="#2e9470"/>
<path d="M182 478 L236 478 L236 604 L182 620.5 Z" fill="#202020"/>
<path d="M129 488 L182 478 L182 620.5 L129 602 Z" fill="#111111"/>
<path d="M133 496.0 L174 492.5 L174 505.5 L133 507.0 Z" fill="#1d1d1d"/>
<path d="M133 496.0 L174 492.5" stroke="#2c2c2c" stroke-width="1"/>
<rect x="140" y="500.5" width="1.8" height="1.4" fill="#cfc79a"/>
<rect x="144.5" y="500.3" width="10" height="1.6" fill="#2b5483"/>
<path d="M133 512.2 L174 509.3 L174 522.6 L133 523.5 Z" fill="#1d1d1d"/>
<path d="M133 512.2 L174 509.3" stroke="#2c2c2c" stroke-width="1"/>
<rect x="140" y="516.7" width="1.8" height="1.4" fill="#cfc79a"/>
<rect x="144.5" y="516.5" width="10" height="1.6" fill="#2b5483"/>
<path d="M133 528.4 L174 526.1 L174 539.7 L133 540.0 Z" fill="#1d1d1d"/>
<path d="M133 528.4 L174 526.1" stroke="#2c2c2c" stroke-width="1"/>
<rect x="140" y="532.9" width="1.8" height="1.4" fill="#cfc79a"/>
<rect x="144.5" y="532.7" width="10" height="1.6" fill="#2b5483"/>
<path d="M133 544.6 L174 542.9 L174 556.8 L133 556.5 Z" fill="#1d1d1d"/>
<path d="M133 544.6 L174 542.9" stroke="#2c2c2c" stroke-width="1"/>
<rect x="140" y="549.1" width="1.8" height="1.4" fill="#cfc79a"/>
<rect x="144.5" y="548.9" width="10" height="1.6" fill="#2b5483"/>
<path d="M133 560.8 L174 559.7 L174 573.9 L133 573.0 Z" fill="#1d1d1d"/>
<path d="M133 560.8 L174 559.7" stroke="#2c2c2c" stroke-width="1"/>
<rect x="140" y="565.3" width="1.8" height="1.4" fill="#cfc79a"/>
<rect x="144.5" y="565.1" width="10" height="1.6" fill="#2b5483"/>
<path d="M133 577.0 L174 576.5 L174 591.0 L133 589.5 Z" fill="#1d1d1d"/>
<path d="M133 577.0 L174 576.5" stroke="#2c2c2c" stroke-width="1"/>
<rect x="140" y="581.5" width="1.8" height="1.4" fill="#cfc79a"/>
<rect x="144.5" y="581.3" width="10" height="1.6" fill="#2b5483"/>
<path d="M133 593.2 L174 593.3 L174 608.1 L133 606.0 Z" fill="#1d1d1d"/>
<path d="M133 593.2 L174 593.3" stroke="#2c2c2c" stroke-width="1"/>
<rect x="140" y="597.7" width="1.8" height="1.4" fill="#cfc79a"/>
<rect x="144.5" y="597.5" width="10" height="1.6" fill="#2b5483"/>
<path d="M196 606.0 L235 598.0" stroke="#121212" stroke-width="1.4"/>
<path d="M196 601.5 L235 593.5" stroke="#121212" stroke-width="1.4"/>
<path d="M196 597.0 L235 589.0" stroke="#121212" stroke-width="1.4"/>
<path d="M196 592.5 L235 584.5" stroke="#121212" stroke-width="1.4"/>
<path d="M196 588.0 L235 580.0" stroke="#121212" stroke-width="1.4"/>
<path d="M192 481 L217 468 L243 481 L243 519 L192 519 Z" fill="#f6c000"/>
<path d="M197 464 L231 464 L238 471 L238 505 L197 505 Z" fill="#f6f6f6"/><path d="M231 464 L238 471 L231 471 Z" fill="#dcdcdc"/>
<rect x="199" y="468" width="37" height="2" fill="#e8e8e8"/>
<rect x="199" y="473" width="37" height="2" fill="#e8e8e8"/>
<rect x="199" y="478" width="37" height="2" fill="#e8e8e8"/>
<rect x="199" y="483" width="37" height="2" fill="#e8e8e8"/>
<rect x="199" y="488" width="37" height="2" fill="#e8e8e8"/>
<rect x="199" y="493" width="37" height="2" fill="#e8e8e8"/>
<path d="M192 481 L217 500 L243 481 L243 519 L192 519 Z" fill="#fcc80a"/>
<path d="M192 519 L217 497 L243 519 Z" fill="#f8b400"/>
<path transform="translate(253.75 449.2) rotate(-45.8)" d="M0 0 L44.3 -1.8 Q43.3 -8.8 39.3 -16 Q47.1 -7.2 52.3 0 Q47.1 7.2 39.3 16 Q43.3 8.8 44.3 1.8 Z" fill="#2e9470"/>
<path transform="translate(247.5 495) rotate(0.0)" d="M0 0 L41.0 -1.8 Q40.0 -8.8 36.0 -16 Q43.8 -7.2 49.0 0 Q43.8 7.2 36.0 16 Q40.0 8.8 41.0 1.8 Z" fill="#2e9470"/>
<path transform="translate(255.5 540.8) rotate(46.5)" d="M0 0 L44.3 -1.8 Q43.3 -8.8 39.3 -16 Q47.1 -7.2 52.3 0 Q47.1 7.2 39.3 16 Q43.3 8.8 44.3 1.8 Z" fill="#2e9470"/>
<use href="#office" transform="translate(0 0)"/>
<use href="#office" transform="translate(0 95)"/>
<use href="#office" transform="translate(0 190)"/>
<path d="M471 464 L545 461 L517.8 400 L566.7 469 L517.8 538 L545 477.5 L471 474 Z" fill="#c9c9c9"/>
<path d="M895 469 L1052 460 L1022.5 401 L1071 469.5 L1022.5 539 L1052 479 Z" fill="#c9c9c9"/>
<use href="#unit"/>
<use href="#hosp"/>
<use href="#hosp" transform="translate(126.5 0)"/>
<use href="#hosp" transform="translate(253 0)"/>
<use href="#doc" style="--sw:1.05px;--sw2:0.9px" transform="translate(570.5 542.5) scale(0.52)"/>
<use href="#doc" style="--sw:1.05px;--sw2:0.9px" transform="translate(933 534.5) scale(-0.6 0.6)"/>
<use href="#unit" transform="translate(847.4 249.3) scale(0.346)"/>
<use href="#unit" transform="translate(900.2 189.8) scale(0.438)"/>
<use href="#unit" transform="translate(1089.5 249.9) scale(0.345)"/>
<use href="#unit" transform="translate(912.6 332.5) scale(0.347)"/>
<use href="#unit" transform="translate(1029 332.3) scale(0.3475)"/>
<use href="#hosp" transform="translate(514.5 7)"/>
<use href="#doc" style="--sw:1.4px;--sw2:1.1px" transform="translate(1087.5 483) scale(1)"/>
</svg>
<div class="t" id="t1" style="top:61.20px;left:462.00px;letter-spacing:1.774px"><span class="l">SaaS</span> 化でより多くの医療機関が</div>
<div class="t" id="t2" style="top:117.40px;left:422.40px;letter-spacing:1.355px">より多くの業務を <span class="l">DX</span> 化できるように</div>
<div class="box" style="left:79px;width:386px"></div>
<div class="box" style="left:493px;width:507px"></div>
<div class="box" style="left:1023px;width:440px"></div>
<div class="bt" id="b1a" style="top:229.20px;left:99.60px;letter-spacing:2.878px">院内サーバーの医療情報システムも</div>
<div class="bt" id="b1b" style="top:261.00px;left:112.20px;letter-spacing:2.706px">やはり導入や管理の負担が大きい</div>
<div class="bt" id="b2a" style="top:229.20px;left:520.60px;letter-spacing:0.645px">システムの導入コスト・運用コストが下がることで</div>
<div class="bt" id="b2b" style="top:261.00px;left:513.40px;letter-spacing:0.468px">これまで導入が難しかった施設でも DX が可能になる</div>
<div class="bt" id="b3a" style="top:229.20px;left:1039.40px;letter-spacing:1.473px">さらに、多くのシステム導入の余地が生まれ</div>
<div class="bt" id="b3b" style="top:261.00px;left:1072.00px;letter-spacing:1.155px">より多くの業務を DX 化できるように</div>
</body></html>
